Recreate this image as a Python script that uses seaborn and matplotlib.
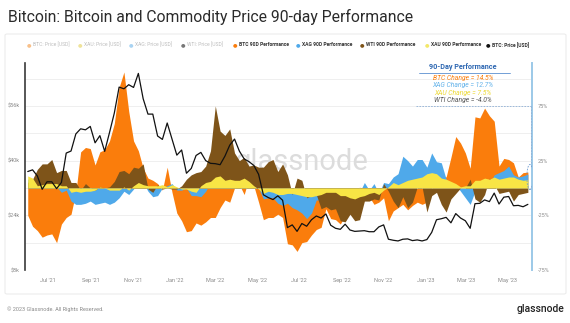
import pandas as pd
import matplotlib
matplotlib.use("Agg")
import matplotlib.pyplot as plt
import matplotlib.dates as mdates
from matplotlib.patches import Ellipse, FancyBboxPatch
from matplotlib.lines import Line2D
import seaborn as sns

# ---- weekly series -------------------------------------------------------
start_date = "2021-06-01"

btc_price_k = [
    36.8, 37.3, 35.5, 31.6, 33.8, 33.8, 31.8, 33.6, 42.2, 42.8, 47.8, 49.3, 49.0, 50.0, 45.2, 47.3,
    42.7, 48.2, 53.9, 61.5, 61.0, 62.2, 61.4, 65.5, 58.1, 53.6, 53.6, 47.2, 46.2, 51.0, 46.3,
    41.6, 43.1, 36.3, 37.7, 41.5, 42.4, 40.0, 39.2, 39.1, 38.8, 41.3, 44.5, 46.3, 42.8, 40.5, 39.7,
    38.6, 36.0, 30.0, 29.2, 28.6, 29.7, 28.4, 20.4, 21.2, 19.3, 21.6, 20.8, 22.7, 23.8, 23.2, 24.4,
    21.1, 20.2, 19.9, 21.4, 19.7, 19.3, 19.4, 19.5, 19.2, 19.2, 20.6, 21.2, 17.0, 16.7, 16.5, 17.0,
    17.1, 16.6, 16.8, 16.5,
    16.9, 19.0, 22.7, 23.0, 23.4, 21.8, 24.5, 23.2, 22.4, 20.2, 27.4, 27.5, 28.5, 28.0, 30.5, 27.3,
    29.3, 29.5, 26.8, 26.9, 26.5, 27.2,
]

btc_perf = [
    -25, -35, -39, -45, -43, -42, -50, -33, -27, -24, -4, 33, 37, 36, 21, 33,
    35, 43, 59, 92, 106, 70, 43, 34, 18, 9, 7, 4, -2, 19, -4,
    -23, -30, -40, -39, -32, -34, -31, -27, -27, -18, -11, -13, 0, 3, -6, 9,
    2, -13, -29, -27, -27, -24, -27, -51, -52, -58, -50, -49, -43, -38, -36, -19,
    -28, -29, -33, -25, -3, -9, 1, -10, -8, -15, -13, -9, -30, -21, -18, -15,
    -20, -16, -13, -15,
    -13, -1, 18, 12, 10, 28, 47, 41, 32, 18, 65, 64, 73, 66, 61, 20,
    27, 26, 23, 10, 14, 14.5,
]

xag_perf = [
    8, 8, 2, 4, 6, 4, 1, -4, -2, -12, -15, -15, -14, -12, -15, -14,
    -13, -15, -13, -9, -3, -6, -1, 6, 5, -3, -8, -7, 0, 2, 4,
    -2, -2, 0, -7, -7, -8, -3, 5, 14, 16, 13, 12, 6, 11, 12, 0,
    2, 0, -10, -9, -9, -14, -16, -14, -18, -20, -23, -28, -23, -11, -11, 0,
    -12, -14, -19, -13, -11, -10, -4, 5, -2, 4, -5, 5, 4, 10, 13, 29,
    25, 20, 26, 26,
    19, 32, 24, 23, 8, 1, 3, -3, -9, -15, -3, -2, 0, 4, 12, 14,
    16, 20, 12, 10, 11, 12.7,
]

wti_perf = [
    5, 8, 17, 22, 22, 26, 14, 16, 16, 5, 5, -2, 4, 0, -2, 1,
    0, 1, 6, 15, 16, 13, 19, 18, 22, -1, -4, 3, -1, 0, -1,
    -1, 2, 8, 12, 14, 15, 20, 34, 75, 52, 48, 54, 32, 25, 28, 20,
    21, 19, 19, 24, 26, 15, 22, 12, -6, 9, 7, -9, -7, -6, -19, -17,
    -20, -19, -30, -31, -24, -30, -29, -12, -12, -10, -11, 4, -3, -12, -18, -8,
    -18, -13, 1, 1,
    -22, -7, -4, -15, -22, -10, -5, 0, 0, 8, -10, -13, -6, 9, 3, -5,
    -4, -3, -12, -6, -5, -4.0,
]

xau_perf = [
    11, 9, 2, 3, 4, 4, 4, 2, 2, -4, -3, -4, -3, -3, -2, 1,
    0, -2, -2, -2, 1, -2, 2, 5, 3, 2, 2, 2, 3, 1, 3,
    1, -1, -1, -3, -4, 2, 5, 6, 10, 11, 7, 8, 7, 7, 9, 6,
    2, -1, -5, -3, -4, -6, -6, -5, -5, -6, -7, -8, -8, -7, -6, -4,
    -4, -4, -7, -7, -9, -10, -8, -7, -5, -4, -6, -2, 1, 5, 3, 5,
    7, 8, 9, 10,
    13, 14, 13, 9, 8, 6, 4, 1, 2, 2, 7, 7, 9, 8, 10, 8,
    9, 10, 10, 8, 7, 7.5,
]

month_ticks = ["2021-07-01", "2021-09-01", "2021-11-01", "2022-01-01", "2022-03-01", "2022-05-01",
               "2022-07-01", "2022-09-01", "2022-11-01", "2023-01-01", "2023-03-01", "2023-05-01"]
month_labels = ["Jul '21", "Sep '21", "Nov '21", "Jan '22", "Mar '22", "May '22",
                "Jul '22", "Sep '22", "Nov '22", "Jan '23", "Mar '23", "May '23"]
price_ticks = [8, 24, 40, 56]
price_labels = ["$8k", "$24k", "$40k", "$56k"]
perf_ticks = [-75, -25, 25, 75]
perf_labels = ["-75%", "-25%", "25%", "75%"]

change_names = ["BTC", "XAG", "XAU", "WTI"]
change_values = [14.5, 12.7, 7.5, -4.0]

legend_labels = ["BTC: Price [USD]", "XAU: Price [USD]", "XAG: Price [USD]", "WTI: Price [USD]",
                 "BTC 90D Performance", "XAG 90D Performance", "WTI 90D Performance",
                 "XAU 90D Performance", "BTC: Price [USD]"]

# ---- styling ---------------------------------------------------------------
C_BTC = "#FA7D0C"
C_XAG = "#4FA9EA"
C_WTI = "#7E5419"
C_XAU = "#F8E545"
C_LINE = "#111111"

sns.set_theme(style="white")
plt.rcParams["font.family"] = ["Roboto", "DejaVu Sans"]

dates = pd.date_range(start_date, periods=len(btc_price_k), freq="7D")
df = pd.DataFrame({"date": dates, "price": btc_price_k, "btc": btc_perf,
                   "xag": xag_perf, "wti": wti_perf, "xau": xau_perf})

W, H = 570, 323
fig = plt.figure(figsize=(W / 100, H / 100), dpi=100)
fig.patch.set_facecolor("white")


def fx(px):
    return px / W


def fy(py):
    return 1 - py / H


# outer panel
fig.patches.append(FancyBboxPatch((fx(5), fy(294)), fx(561), (294 - 34) / H,
                                  boxstyle="round,pad=0,rounding_size=0.004",
                                  transform=fig.transFigure, facecolor="none",
                                  edgecolor="#ececec", lw=0.8, zorder=0))

ax = fig.add_axes([fx(25), fy(270), fx(532 - 25), (270 - 63) / H])
px_per_unit = 54.7
perf_top = -75 + 207 / px_per_unit * 50
price_top = 8 + 207 / px_per_unit * 16
ax.set_ylim(-75, perf_top)
ax.set_xlim(pd.Timestamp("2021-05-28"), pd.Timestamp("2023-06-05"))

for g in [-50, -25, 0, 25, 50, 75, 100]:
    ax.axhline(g, color="#ededed", lw=0.6, zorder=0)

ax.text(0.545, 0.52, "glassnode", transform=ax.transAxes, fontsize=21,
        color="#dcdcdc", ha="center", va="center", zorder=1)

for col, c in [("btc", C_BTC), ("xag", C_XAG), ("wti", C_WTI), ("xau", C_XAU)]:
    ax.fill_between(df["date"], 0, df[col], color=c, lw=0, zorder=2)

# annotation guide
ax.plot([pd.Timestamp("2022-12-18"), pd.Timestamp("2023-06-03")], [75, 75],
        ls=(0, (2, 1.5)), color="#8fb0d6", lw=0.6, zorder=3)
ax.plot([pd.Timestamp("2023-06-03"), pd.Timestamp("2023-06-03")], [75, 21],
        ls=(0, (2, 1.5)), color="#8fb0d6", lw=0.6, zorder=3)
ax.add_patch(Ellipse((mdates.date2num(pd.Timestamp("2023-06-02")), 10), 9, 23,
                     fill=False, ls=(0, (2, 1.5)), ec="#6f9bd0", lw=0.6, zorder=5))

ax.set_xticks(pd.to_datetime(month_ticks))
ax.set_xticklabels(month_labels)
for s in ["top", "bottom"]:
    ax.spines[s].set_visible(False)
ax.spines["left"].set_color("#3a3a3a")
ax.spines["left"].set_linewidth(1.2)
ax.spines["right"].set_color("#9cc9e8")
ax.spines["right"].set_linewidth(1.4)

ax2 = ax.twinx()
sns.lineplot(data=df, x="date", y="price", ax=ax2, color=C_LINE, lw=0.9, zorder=6)
ax2.set_ylim(8, price_top)
ax2.set_xlabel("")
ax2.set_ylabel("")
ax.set_xlabel("")
for s in ax2.spines.values():
    s.set_visible(False)

# performance scale on the right, price scale on the left
ax.yaxis.tick_right()
ax.set_yticks(perf_ticks)
ax.set_yticklabels(perf_labels)
ax2.yaxis.tick_left()
ax2.set_yticks(price_ticks)
ax2.set_yticklabels(price_labels)
ax.tick_params(axis="both", length=0, labelsize=4, colors="#8a8a8a")
ax.tick_params(axis="x", pad=6)
ax.tick_params(axis="y", pad=4)
ax2.tick_params(axis="y", length=0, labelsize=4, colors="#8a8a8a", pad=4)

# title and footer
fig.text(fx(8), fy(17), "Bitcoin: Bitcoin and Commodity Price 90-day Performance",
         fontsize=11.3, color="#2b2b2b", ha="left", va="center")
fig.text(fx(7), fy(309), "\u00a9 2023 Glassnode. All Rights Reserved.", fontsize=4,
         color="#8a8a8a", ha="left", va="center")
fig.text(fx(564), fy(309), "glassnode", fontsize=7.5, color="#222222", ha="right",
         va="center", fontweight="medium")

# legend row
dot_x = [29, 80, 131, 183, 235, 298, 362, 427, 488]
dot_colors = ["#f8c08a", "#efe39a", "#a9d3f2", "#777777", C_BTC, C_XAG, C_WTI, "#f3e86a", C_LINE]
for i, (x, lab, c) in enumerate(zip(dot_x, legend_labels, dot_colors)):
    active = i >= 4
    fig.text(fx(x), fy(45), "\u25CF", fontsize=3.8, color=c, ha="center", va="center")
    fig.text(fx(x + 4), fy(45), lab, fontsize=3.6,
             color="#333333" if active else "#bdbdbd",
             fontweight="bold" if active else "normal", ha="left", va="center")

# 90-day change box
fig.text(fx(463), fy(67), "90-Day Performance", fontsize=5.2, color="#2d67b2",
         fontweight="bold", ha="center", va="center")
fig.lines.append(Line2D([fx(419), fx(510)], [fy(72.5), fy(72.5)], transform=fig.transFigure,
                        color="#5b8fd0", lw=0.6))
change_colors = [C_BTC, "#62b2ea", "#ecd935", "#555555"]
for j, (nm, v, c) in enumerate(zip(change_names, change_values, change_colors)):
    fig.text(fx(463), fy(78 + 7.3 * j), f"{nm} Change = {v:.1f}%", fontsize=4.9,
             color=c, style="italic", ha="center", va="center")

fig.savefig("out.png", dpi=100, facecolor="white")
